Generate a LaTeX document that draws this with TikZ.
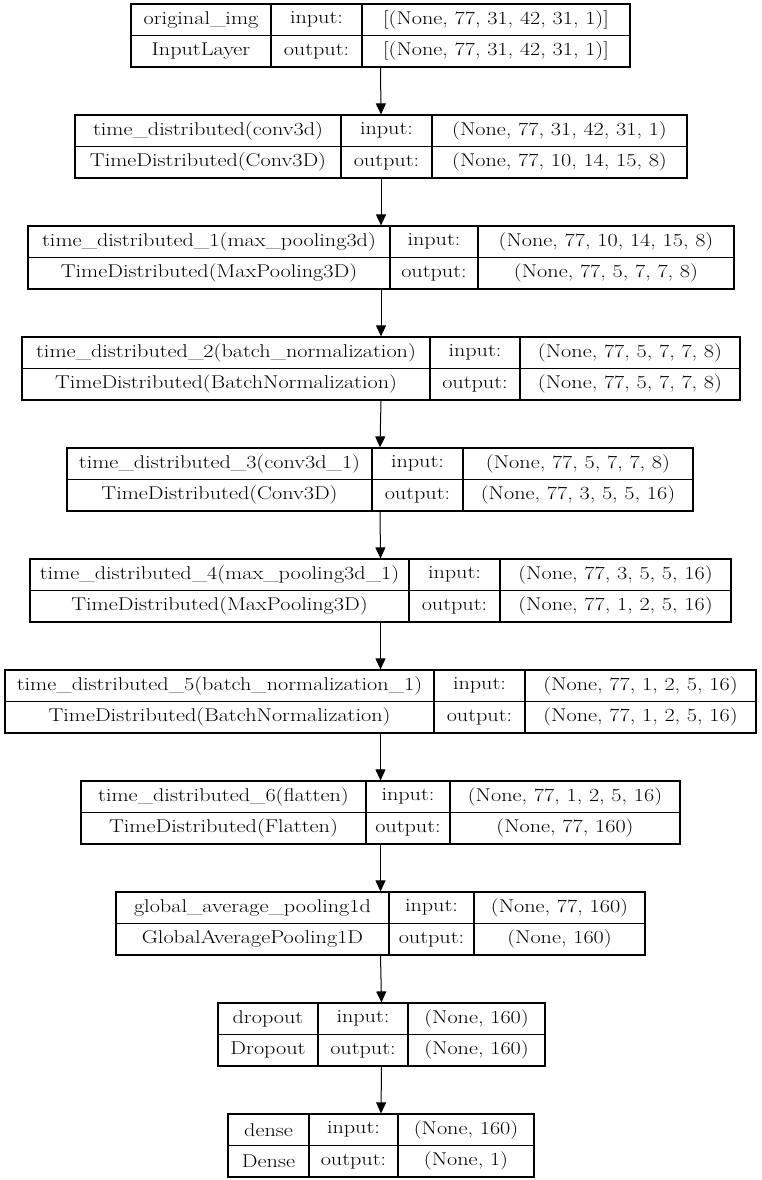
\documentclass[tikz,border=0pt]{standalone}
\usepackage{fontspec}
\usetikzlibrary{arrows.meta}
\newfontfamily\cellfont{Latin Modern Roman}[FakeStretch=1.2]
% one layer box: #1 index, #2..#5 column edges, #6 name, #7 class, #8 input, #9 output
\newcommand{\layerbox}[9]{%
  \pgfmathsetmacro{\yt}{-(4+111*(#1-1))}
  \pgfmathsetmacro{\ym}{\yt-31.5}
  \pgfmathsetmacro{\yb}{\yt-63}
  \node[box, minimum width={#5-#2}] (L#1) at ({(#2+#5)/2},{\yt-31.5}) {};
  \draw[rule] (#3,\yt) -- (#3,\yb);
  \draw[rule] (#4,\yt) -- (#4,\yb);
  \draw[rule] (#2,\ym) -- (#5,\ym);
  \node[txt] (L#1n) at ({(#2+#3)/2},{\yt-15.75}) {#6};
  \node[txt] (L#1c) at ({(#2+#3)/2},{\yt-47.25}) {#7};
  \node[txt] (L#1i) at ({(#3+#4)/2},{\yt-15.75}) {input:};
  \node[txt] (L#1o) at ({(#3+#4)/2},{\yt-47.25}) {output:};
  \node[txt] (L#1s) at ({(#4+#5)/2},{\yt-15.75}) {#8};
  \node[txt] (L#1t) at ({(#4+#5)/2},{\yt-47.25}) {#9};
}

\begin{document}
\begin{tikzpicture}[x=1pt, y=1pt,
  box/.style={draw, line width=1.2pt, minimum height=63pt, inner sep=0pt},
  rule/.style={line width=1.2pt},
  txt/.style={inner sep=0pt, font=\cellfont\fontsize{18.5}{21}\selectfont},
  arr/.style={line width=1pt, -{Triangle[length=11pt, width=10pt]}}]
  \useasboundingbox (0,0) rectangle (761,-1180);
  \layerbox{1}{131}{271}{362}{630}{original\_img}{InputLayer}{[(None, 77, 31, 42, 31, 1)]}{[(None, 77, 31, 42, 31, 1)]}
  \layerbox{2}{75}{341}{432}{687}{time\_distributed(conv3d)}{TimeDistributed(Conv3D)}{(None, 77, 31, 42, 31, 1)}{(None, 77, 10, 14, 15, 8)}
  \layerbox{3}{28}{390}{478}{734}{time\_distributed\_1(max\_pooling3d)}{TimeDistributed(MaxPooling3D)}{(None, 77, 10, 14, 15, 8)}{(None, 77, 5, 7, 7, 8)}
  \layerbox{4}{22}{430}{520}{740}{time\_distributed\_2(batch\_normalization)}{TimeDistributed(BatchNormalization)}{(None, 77, 5, 7, 7, 8)}{(None, 77, 5, 7, 7, 8)}
  \layerbox{5}{67}{372}{463}{693}{time\_distributed\_3(conv3d\_1)}{TimeDistributed(Conv3D)}{(None, 77, 5, 7, 7, 8)}{(None, 77, 3, 5, 5, 16)}
  \layerbox{6}{30}{409}{500}{731}{time\_distributed\_4(max\_pooling3d\_1)}{TimeDistributed(MaxPooling3D)}{(None, 77, 3, 5, 5, 16)}{(None, 77, 1, 2, 5, 16)}
  \layerbox{7}{5}{434}{525}{756}{time\_distributed\_5(batch\_normalization\_1)}{TimeDistributed(BatchNormalization)}{(None, 77, 1, 2, 5, 16)}{(None, 77, 1, 2, 5, 16)}
  \layerbox{8}{81}{366}{450}{680}{time\_distributed\_6(flatten)}{TimeDistributed(Flatten)}{(None, 77, 1, 2, 5, 16)}{(None, 77, 160)}
  \layerbox{9}{116}{389}{474}{645}{global\_average\_pooling1d}{GlobalAveragePooling1D}{(None, 77, 160)}{(None, 160)}
  \layerbox{10}{218}{318}{408}{545}{dropout}{Dropout}{(None, 160)}{(None, 160)}
  \layerbox{11}{228}{309}{398}{534}{dense}{Dense}{(None, 160)}{(None, 1)}
  \foreach \a/\b in {1/2,2/3,3/4,4/5,5/6,6/7,7/8,8/9,9/10,10/11}
    \draw[arr] (L\a.south) -- (L\b.north);
\end{tikzpicture}
\end{document}
